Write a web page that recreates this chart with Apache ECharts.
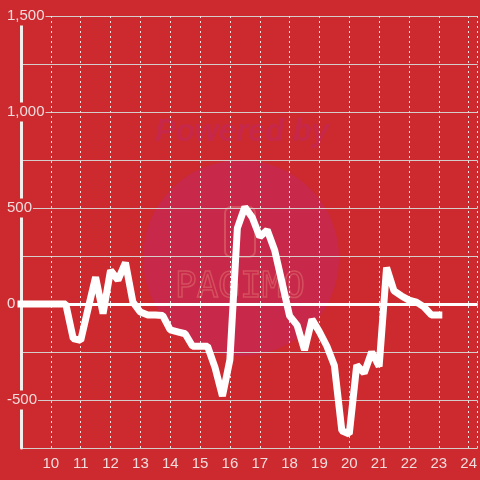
<!DOCTYPE html>
<html>
<head>
<meta charset="utf-8">
<script src="https://cdn.jsdelivr.net/npm/echarts@6/dist/echarts.min.js"></script>
<style>html,body{margin:0;padding:0;background:#cc2a2f;}#c{width:480px;height:480px;}</style>
</head>
<body>
<div id="c"></div>
<script>
// time of day in hours (15-minute samples)
var hours = [9, 9.25, 9.5, 9.75, 10, 10.25, 10.5, 10.75, 11, 11.25, 11.5, 11.75,
  12, 12.25, 12.5, 12.75, 13, 13.25, 13.5, 13.75, 14, 14.25, 14.5, 14.75,
  15, 15.25, 15.5, 15.75, 16, 16.25, 16.5, 16.75, 17, 17.25, 17.5, 17.75,
  18, 18.25, 18.5, 18.75, 19, 19.25, 19.5, 19.75, 20, 20.25, 20.5, 20.75,
  21, 21.25, 21.5, 21.75, 22, 22.25, 22.5, 22.75, 23];
var values = [0, 0, 0, 0, 0, 0, 0, -180, -190, -23, 140, -50,
  175, 125, 215, 10, -42, -57, -57, -60, -135, -145, -155, -220,
  -220, -220, -330, -480, -290, 395, 505, 450, 350, 385, 280, 110,
  -62, -110, -240, -80, -145, -220, -320, -660, -677, -318, -360, -250,
  -325, 190, 68, 42, 20, 10, -15, -57, -57];
var yTickLabels = [1500, 1000, 500, 0, -500];

var bg = '#cc2a2f';
var data = hours.map(function (h, i) { return [h, values[i]]; });

var chart = echarts.init(document.getElementById('c'), null, {renderer: 'canvas'});
chart.setOption({
  backgroundColor: bg,
  animation: false,
  graphic: [
    {type: 'circle', z: -10, shape: {cx: 241, cy: 258, r: 98}, style: {fill: '#c8284a'}},
    {type: 'text', z: -9, x: 242, y: 132, style: {text: 'Powered by', fill: '#c7284a', font: 'italic bold 31px "Liberation Sans", Arial, sans-serif', align: 'center', verticalAlign: 'middle'}},
    {type: 'rect', z: -9, shape: {x: 225, y: 207, width: 30, height: 50, r: 6}, style: {fill: 'none', stroke: '#d4505e', lineWidth: 2}},
    {type: 'text', z: -9, x: 240, y: 288, style: {text: 'PAGIMO', fill: 'none', stroke: '#d4505e', lineWidth: 1.5, font: '36px "DejaVu Sans Mono", monospace', align: 'center', verticalAlign: 'middle'}}
  ],
  grid: {left: 21, right: 0, top: 16, bottom: 32, containLabel: false},
  xAxis: {
    type: 'value', min: 9, max: 24.3, interval: 1,
    axisLine: {show: true, lineStyle: {color: '#cfc8c8', width: 1}},
    axisTick: {show: false},
    axisLabel: {color: '#f0dcdc', fontSize: 15, margin: 8, showMinLabel: false, showMaxLabel: false,
      fontFamily: '"Liberation Sans", Arial, sans-serif'},
    splitLine: {show: true, lineStyle: {color: '#f2e2e2', width: 1, type: [2, 3]}}
  },
  yAxis: {
    type: 'value', min: -750, max: 1500, interval: 250,
    axisLine: {show: true, lineStyle: {color: '#f2eeee', width: 3}},
    axisTick: {show: false},
    axisLabel: {
      margin: 15, align: 'left',
      formatter: function (v) {
        if (yTickLabels.indexOf(v) < 0) return '';
        return '{a|' + v.toLocaleString('en-US') + '}';
      },
      rich: {a: {color: '#f0dcdc', fontSize: 15, backgroundColor: bg, padding: [2, 1, 2, 1],
        fontFamily: '"Liberation Sans", Arial, sans-serif'}}
    },
    splitLine: {show: true, lineStyle: {color: '#d6cccc', width: 1}}
  },
  series: [{
    type: 'line',
    data: data,
    showSymbol: false,
    symbol: 'none',
    lineStyle: {color: '#ffffff', width: 7, cap: 'square'},
    markLine: {
      silent: true, symbol: ['none', 'none'], label: {show: false},
      lineStyle: {color: '#ffffff', width: 3, type: 'solid'},
      data: [{yAxis: 0}]
    }
  }]
});
</script>
</body>
</html>
